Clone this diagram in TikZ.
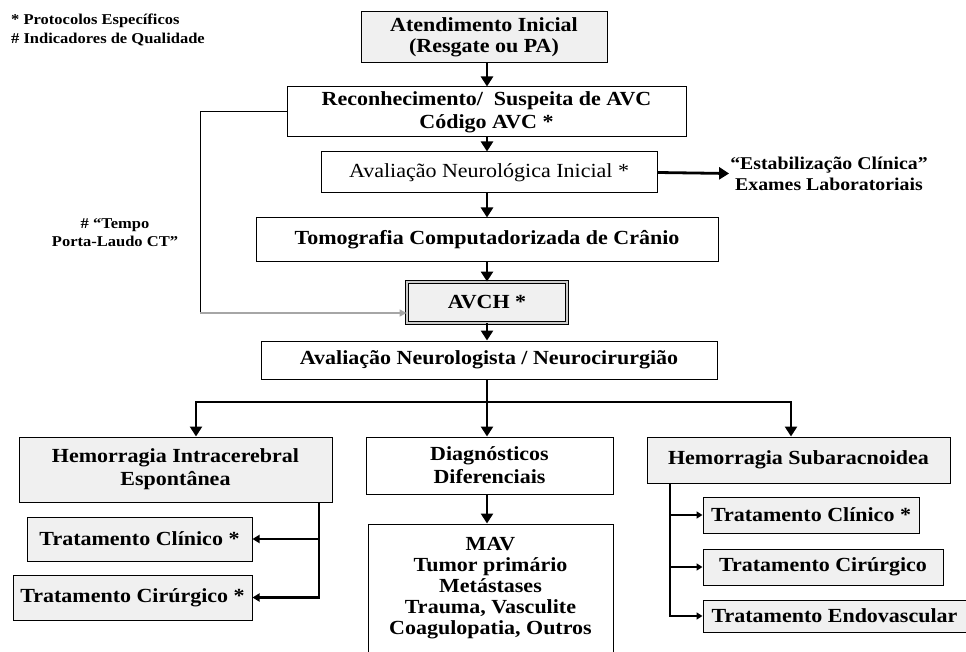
\documentclass[tikz,border=0pt]{standalone}
\usepackage{fontspec}
\setmainfont{Liberation Serif}[FakeStretch=1.1]
\usetikzlibrary{arrows.meta}

\begin{document}
\begin{tikzpicture}[x=1pt,y=-1pt,
  box/.style={draw,line width=1pt,fill=white,inner sep=0pt,align=center,font=\fontsize{20}{23}\selectfont\bfseries},
  gbox/.style={box,fill=gray!12},
  tight/.style={font=\fontsize{20}{21}\selectfont\bfseries},
  note/.style={inner sep=1pt,align=center,font=\fontsize{15}{18}\selectfont\bfseries},
  arr/.style={line width=2.8pt,-{Triangle[length=10pt,width=12pt]}},
  trunk/.style={line width=2.8pt},
  br/.style={line width=2.4pt,-{Triangle[length=7pt,width=8pt]}},
  brs/.style={line width=2pt,-{Triangle[length=6pt,width=7pt]}},
  side/.style={line width=1pt},
  sidearr/.style={line width=1.4pt,draw=gray!70,-{Triangle[length=7pt,width=7pt]}}]
\useasboundingbox (0,0) rectangle (966,652);

\node[note,anchor=north west,align=left,font=\fontsize{15}{19}\selectfont\bfseries] (t3) at (10,13) {* Protocolos Específicos\\\# Indicadores de Qualidade};
\node[note] (t2) at (115,233) {\# “Tempo\\Porta-Laudo CT”};

\node[gbox,tight,minimum width=246pt,minimum height=51pt] (b1) at (484,37.5) {Atendimento Inicial\\(Resgate ou PA)};
\node[box,minimum width=399pt,minimum height=50pt] (b2) at (486.5,112) {Reconhecimento/\ \ Suspeita de AVC\\Código AVC *};
\node[box,minimum width=336pt,minimum height=41pt,font=\fontsize{20}{23}\selectfont] (b3) at (489,172.5) {Avaliação Neurológica Inicial *};
\node[note,font=\fontsize{18}{21}\selectfont\bfseries] (t1) at (829,173.5) {“Estabilização Clínica”\\Exames Laboratoriais};
\node[box,minimum width=462pt,minimum height=44pt] (b4) at (487,240) {Tomografia Computadorizada de Crânio};
\node[gbox,minimum width=160pt,minimum height=41pt,double=gray!40,double distance=1.6pt,line width=0.9pt] (b5) at (487,302.5) {AVCH *};
\node[box,minimum width=456pt,minimum height=38pt] (b6) at (489,360) {Avaliação Neurologista / Neurocirurgião};

\node[gbox,minimum width=313pt,minimum height=65pt] (b7) at (175.5,469.5) {Hemorragia Intracerebral\\Espontânea};
\node[box,minimum width=247pt,minimum height=57pt] (b8) at (489.5,465.5) {Diagnósticos\\Diferenciais};
\node[box,tight,minimum width=245pt,minimum height=129pt] (b9) at (490.5,588.5) {MAV\\Tumor primário\\Metástases\\Trauma, Vasculite\\Coagulopatia, Outros};
\node[gbox,minimum width=303pt,minimum height=46pt] (b10) at (798.5,460) {Hemorragia Subaracnoidea};

\node[gbox,minimum width=225pt,minimum height=44pt] (b11) at (139.5,539) {Tratamento Clínico *};
\node[gbox,minimum width=239pt,minimum height=45pt] (b12) at (132.5,597.5) {Tratamento Cirúrgico *};
\node[gbox,minimum width=216pt,minimum height=36pt] (b13) at (811,515) {Tratamento Clínico *};
\node[gbox,minimum width=240pt,minimum height=36pt] (b14) at (823,567) {Tratamento Cirúrgico};
\node[gbox,minimum width=263pt,minimum height=32pt] (b15) at (834.5,616) {Tratamento Endovascular};

\coordinate (j0) at (487,402);
\coordinate (j1) at (196,402);
\coordinate (j2) at (791,402);
\coordinate (c1) at (200,313);
\coordinate (c2) at (319,597.5);
\coordinate (c3) at (670,616);

\draw[arr] (b1.south -| b5) -- (b2.north -| b5);
\draw[arr] (b2.south -| b5) -- (b3.north -| b5);
\draw[arr] (b3.south -| b5) -- (b4.north -| b5);
\draw[arr] (b4.south -| b5) -- (b5.north);
\draw[arr] (b5.south) -- (b6.north -| b5);
\draw[arr] (b3.east) -- (t1.west);
\draw[trunk] (b6.south -| j0) -- (j0);
\draw[arr] (j0) -- (j1) -- (b7.north -| j1);
\draw[arr] (j0) -- (j2) -- (b10.north -| j2);
\draw[arr] (j0) -- (b8.north -| j0);
\draw[arr] (b8.south -| j0) -- (b9.north -| j0);

\draw[side] (b2.west) -| (c1);
\draw[sidearr] (c1) -- (b5.west |- c1);

\draw[br] (b7.south -| c2) -- (c2) -- (b12.east);
\draw[br] (c2 |- b11) -- (b11.east);
\draw[brs] (b10.south -| c3) -- (c3) -- (b15.west);
\draw[brs] (c3 |- b13) -- (b13.west);
\draw[brs] (c3 |- b14) -- (b14.west);
\end{tikzpicture}
\end{document}
